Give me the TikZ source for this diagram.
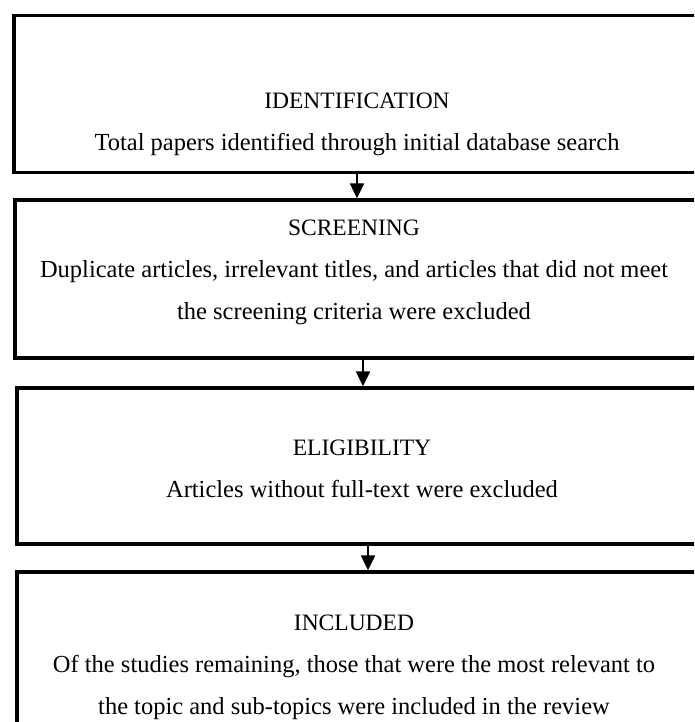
\documentclass[tikz,border=0pt]{standalone}
\usepackage{fontspec}
\setmainfont{Liberation Serif}
\usetikzlibrary{arrows.meta}

\newcommand{\stagehead}[1]{{\fontsize{23.5}{42}\selectfont #1}}

\tikzset{
  stage/.style={draw, line width=3.5pt, inner sep=0pt},
  caption/.style={align=center, inner sep=0pt, font=\fontsize{24.5}{42}\selectfont},
  flow/.style={-{Triangle[width=14pt,length=15pt]}, line width=2.5pt},
}

\begin{document}
\begin{tikzpicture}[x=1pt, y=-1pt]

  \useasboundingbox (0,0) rectangle (694,722);
  \clip (0,0) rectangle (694,722);

  % -- Stage boxes --
  \node[stage, minimum width=686pt, minimum height=157pt] (ident) at (357,94) {};
  \node[stage, minimum width=696pt, minimum height=158pt] (screen) at (363,279) {};
  \node[stage, minimum width=702pt, minimum height=156pt] (elig) at (368,466) {};
  \node[stage, minimum width=702pt, minimum height=196pt] (incl) at (368,670) {};

  % -- Stage texts --
  \node[caption] (identtxt) at (357,124)
    {\stagehead{IDENTIFICATION}\\Total papers identified through initial database search};
  \node[caption] (screentxt) at (354,272)
    {\stagehead{SCREENING}\\Duplicate articles, irrelevant titles, and articles that did not meet\\the screening criteria were excluded};
  \node[caption] (eligtxt) at (362,469)
    {\stagehead{ELIGIBILITY}\\Articles without full-text were excluded};
  \node[caption] (incltxt) at (354,667)
    {\stagehead{INCLUDED}\\Of the studies remaining, those that were the most relevant to\\the topic and sub-topics were included in the review};

  % -- Arrows --
  \draw[flow] (ident.south) -- (ident.south |- screen.north);
  \draw[flow] (screen.south) -- (screen.south |- elig.north);
  \draw[flow] (elig.south) -- (elig.south |- incl.north);

\end{tikzpicture}
\end{document}
